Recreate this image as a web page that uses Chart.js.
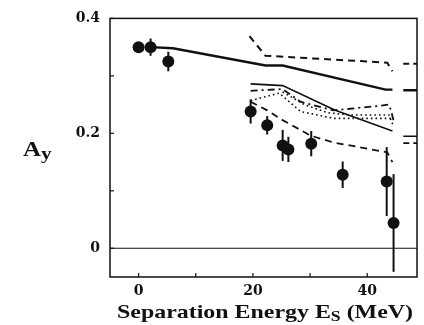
<!DOCTYPE html>
<html>
<head>
<meta charset="utf-8">
<script src="https://cdn.jsdelivr.net/npm/chart.js@4"></script>
<style>
  html, body { margin: 0; padding: 0; background: #fff; }
  #wrap { width: 424px; height: 325px; position: relative; }
</style>
</head>
<body>
<div id="wrap"><canvas id="c" width="424" height="325"></canvas></div>
<script>
// ---- data ----
const expEnergy = [0, 2.1, 5.2, 19.6, 22.5, 25.2, 26.2, 30.2, 35.7, 43.4, 44.6];
const expAy     = [0.350, 0.350, 0.325, 0.238, 0.214, 0.179, 0.172, 0.182, 0.128, 0.116, 0.044];
const expErr    = [0.000, 0.015, 0.017, 0.021, 0.016, 0.027, 0.022, 0.022, 0.023, 0.060, 0.085];

const upperSolidE = [2.1, 6.0, 22.2, 25.2, 43.2, 44.4];
const upperSolidA = [0.350, 0.348, 0.318, 0.318, 0.276, 0.276];
const upperDashE  = [19.4, 22.2, 43.5, 44.4];
const upperDashA  = [0.369, 0.335, 0.323, 0.308];
const lowerSolidE = [19.6, 25.2, 34.4, 44.4];
const lowerSolidA = [0.286, 0.283, 0.240, 0.204];
const dashDotE    = [19.6, 25.2, 28.3, 34.1, 42.3, 43.8, 44.2, 44.6];
const dashDotA    = [0.274, 0.277, 0.255, 0.240, 0.248, 0.250, 0.238, 0.222];
const dotted1E    = [19.6, 24.6, 28.3, 34.1, 44.6];
const dotted1A    = [0.257, 0.270, 0.238, 0.226, 0.226];
const dotted2E    = [25.2, 29.0, 33.0, 37.0, 43.8, 44.2, 44.6];
const dotted2A    = [0.272, 0.250, 0.236, 0.232, 0.232, 0.222, 0.212];
const lowerDashE  = [19.6, 22.5, 25.2, 30.1, 34.1, 43.5, 44.4];
const lowerDashA  = [0.255, 0.240, 0.223, 0.196, 0.184, 0.167, 0.150];

// asymptotic markers at right edge
const edgeE = [46.3, 48.7];
const edgeUpperDashA  = [0.321, 0.321];
const edgeUpperSolidA = [0.275, 0.275];
const edgeLowerSolidA = [0.195, 0.195];
const edgeLowerDashA  = [0.183, 0.183];

const xTicks = [0, 10, 20, 30, 40];
const xLabels = {0: '0', 20: '20', 40: '40'};
const yTicks = [0, 0.1, 0.2, 0.3, 0.4];
const yLabels = {0: '0', 0.2: '0.2', 0.4: '0.4'};

const xTitle = ['Separation Energy E', 'S', ' (MeV)'];
const yTitle = ['A', 'y'];

const pts = (xs, ys) => xs.map((x, i) => ({x: x, y: ys[i]}));
const INK = '#111';

function lineDs(xs, ys, width, dash) {
  return {
    data: pts(xs, ys), showLine: true, pointRadius: 0, borderColor: INK,
    borderWidth: width, borderDash: dash, tension: 0, fill: false
  };
}

const datasets = [
  lineDs(upperSolidE, upperSolidA, 2.4, []),
  lineDs(upperDashE, upperDashA, 2, [7, 5]),
  lineDs(lowerSolidE, lowerSolidA, 1.6, []),
  lineDs(dashDotE, dashDotA, 1.8, [7, 4, 2, 4]),
  lineDs(dotted1E, dotted1A, 1.6, [1.6, 3]),
  lineDs(dotted2E, dotted2A, 1.6, [1.6, 3]),
  lineDs(lowerDashE, lowerDashA, 1.8, [7, 5]),
  lineDs(edgeE, edgeUpperDashA, 2, [6, 4]),
  lineDs(edgeE, edgeUpperSolidA, 2.4, []),
  lineDs(edgeE, edgeLowerSolidA, 1.6, []),
  lineDs(edgeE, edgeLowerDashA, 1.6, [6, 4]),
  {
    data: pts(expEnergy, expAy), showLine: false, pointRadius: 6,
    pointBackgroundColor: INK, pointBorderColor: INK, pointBorderWidth: 0
  }
];

const decor = {
  id: 'decor',
  beforeDatasetsDraw(chart) {
    const {ctx, chartArea: a, scales: {x, y}} = chart;
    ctx.save();
    ctx.strokeStyle = INK;
    // frame
    ctx.lineWidth = 1.5;
    ctx.strokeRect(a.left, a.top, a.right - a.left, a.bottom - a.top);
    // zero line
    ctx.lineWidth = 1.2;
    const y0 = y.getPixelForValue(0);
    ctx.beginPath(); ctx.moveTo(a.left, y0); ctx.lineTo(a.right, y0); ctx.stroke();
    // inward ticks
    ctx.lineWidth = 1.2;
    xTicks.forEach(v => {
      const px = x.getPixelForValue(v);
      ctx.beginPath(); ctx.moveTo(px, a.bottom); ctx.lineTo(px, a.bottom - 4); ctx.stroke();
    });
    yTicks.forEach(v => {
      const py = y.getPixelForValue(v);
      ctx.beginPath(); ctx.moveTo(a.left, py); ctx.lineTo(a.left + 4, py); ctx.stroke();
    });
    // error bars
    ctx.lineWidth = 2;
    expEnergy.forEach((e, i) => {
      if (!expErr[i]) return;
      const px = x.getPixelForValue(e);
      ctx.beginPath();
      ctx.moveTo(px, y.getPixelForValue(expAy[i] - expErr[i]));
      ctx.lineTo(px, y.getPixelForValue(expAy[i] + expErr[i]));
      ctx.stroke();
    });
    ctx.restore();
  },
  afterDraw(chart) {
    const {ctx} = chart;
    ctx.save();
    ctx.fillStyle = INK;
    ctx.textBaseline = 'alphabetic';
    // x title
    const big = 'bold 19px "Liberation Serif"', small = 'bold 14px "Liberation Serif"';
    ctx.font = big; const w1 = ctx.measureText(xTitle[0]).width;
    ctx.font = small; const w2 = ctx.measureText(xTitle[1]).width;
    ctx.font = big; const w3 = ctx.measureText(xTitle[2]).width;
    const total = w1 + w2 + w3;
    const targetW = 296, sx = targetW / total;
    ctx.translate(117, 318);
    ctx.scale(sx, 1);
    ctx.font = big; ctx.fillText(xTitle[0], 0, 0);
    ctx.font = small; ctx.fillText(xTitle[1], w1, 3);
    ctx.font = big; ctx.fillText(xTitle[2], w1 + w2, 0);
    ctx.setTransform(1, 0, 0, 1, 0, 0);
    // y title
    ctx.font = 'bold 20px "Liberation Serif"';
    ctx.translate(23, 156);
    ctx.scale(1.25, 1);
    ctx.fillText(yTitle[0], 0, 0);
    const wa = ctx.measureText(yTitle[0]).width;
    ctx.font = 'bold 17px "Liberation Serif"';
    ctx.fillText(yTitle[1], wa, 3);
    ctx.restore();
  }
};

new Chart(document.getElementById('c'), {
  type: 'scatter',
  data: {datasets},
  options: {
    responsive: false, animation: false,
    layout: {padding: {left: 0, top: 13, right: 7, bottom: 0}},
    plugins: {legend: {display: false}, tooltip: {enabled: false}},
    scales: {
      x: {
        type: 'linear', min: -5, max: 48.7,
        afterBuildTicks: s => { s.ticks = xTicks.map(v => ({value: v})); },
        afterFit: s => { s.height = 48; },
        grid: {display: false, drawTicks: false},
        border: {display: false},
        ticks: {
          padding: 6, color: INK, maxRotation: 0, autoSkip: false,
          font: {family: '"DejaVu Serif"', weight: 'bold', size: 14},
          callback: v => (xLabels[v] !== undefined ? xLabels[v] : '')
        }
      },
      y: {
        type: 'linear', min: -0.05, max: 0.4,
        afterBuildTicks: s => { s.ticks = yTicks.map(v => ({value: v})); },
        afterFit: s => { s.width = 110; },
        grid: {display: false, drawTicks: false},
        border: {display: false},
        ticks: {
          padding: 10, color: INK, autoSkip: false,
          font: {family: '"DejaVu Serif"', weight: 'bold', size: 14},
          callback: v => {
            const k = Math.round(v * 10) / 10;
            return yLabels[k] !== undefined ? yLabels[k] : '';
          }
        }
      }
    }
  },
  plugins: [decor]
});
</script>
</body>
</html>
